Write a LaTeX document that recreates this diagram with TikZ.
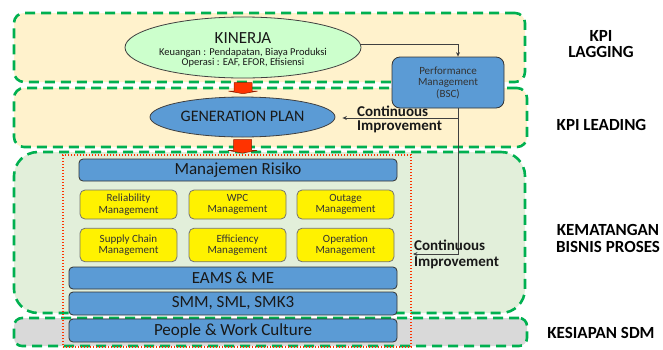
\documentclass[tikz,border=0pt]{standalone}
\usepackage{fontspec}
\setmainfont{Carlito}
\usetikzlibrary{shapes.geometric,arrows.meta,calc}

\definecolor{peach}{HTML}{FFF2CC}
\definecolor{paleGreen}{HTML}{E2EFDA}
\definecolor{paleGray}{HTML}{D9D9D9}
\definecolor{dashGreen}{HTML}{00B050}
\definecolor{boxBlue}{HTML}{5B9BD5}
\definecolor{mint}{HTML}{CCFFCC}
\definecolor{hotRed}{HTML}{FF3300}
\definecolor{wire}{HTML}{404040}

% font size in pt with a given baseline skip
\newcommand\pxfont[2]{\fontsize{#1}{#2}\selectfont}

\begin{document}
\begin{tikzpicture}[x=1pt,y=-1pt,
  band/.style={draw=dashGreen, line width=2.6pt, dash pattern=on 10pt off 6pt, inner sep=0pt},
  bluebar/.style={draw=black!80, fill=boxBlue, rounded corners=4pt, line width=0.8pt,
    inner sep=0pt, font=\pxfont{17}{20}, text=black!90},
  yellowbox/.style={draw=black!55, fill=yellow, rounded corners=5pt, line width=0.8pt,
    minimum width=97pt, inner sep=0pt, align=center, font=\pxfont{11}{11.5}, text=black!80},
  conn/.style={draw=wire, line width=0.8pt, -{Stealth[length=4.5pt,width=4pt]}},
  blockarrow/.style={fill=hotRed, draw=hotRed!55!black, line width=0.5pt},
  tag/.style={font=\bfseries\pxfont{17}{20}, inner sep=0pt},
  note/.style={font=\bfseries\pxfont{15}{17}, inner sep=0pt, anchor=west, text=black!90},
  plain/.style={inner sep=0pt, text=black!90}
]
\useasboundingbox (0,0) rectangle (663,349);

% ---- layer bands ----
\node[band, fill=peach, rounded corners=10pt, minimum width=511pt, minimum height=69pt] (lagband) at (269.5,47.5) {};
\node[band, fill=peach, rounded corners=10pt, minimum width=513pt, minimum height=59pt] (leadband) at (270.5,117.5) {};
\node[band, fill=paleGreen, rounded corners=24pt, minimum width=511pt, minimum height=161pt] (procband) at (269.5,232.5) {};
\node[band, fill=paleGray, rounded corners=8pt, minimum width=513pt, minimum height=28pt] (sdmband) at (270.5,332) {};

% ---- dotted frame round the process stack ----
\node[draw=hotRed, line width=1.4pt, dash pattern=on 1.4pt off 1.6pt, minimum width=348pt, minimum height=192pt, inner sep=0pt] (core) at (237,251) {};

% ---- KINERJA ----
\node[ellipse, draw=black!75, fill=mint, line width=0.8pt, minimum width=236pt, minimum height=61pt, inner sep=0pt] (kin) at (243,47.5) {};
\node[plain, font=\pxfont{17}{20}] (kinT) at (243,38.3) {KINERJA};
\node[plain, font=\pxfont{10.5}{12}] (kinA) at (243,52.4) {Keuangan : Pendapatan, Biaya Produksi};
\node[plain, font=\pxfont{10.5}{12}] (kinB) at (243,63.2) {Operasi : EAF, EFOR, Efisiensi};

% ---- GENERATION PLAN ----
\node[ellipse, draw=black!75, fill=boxBlue, line width=0.8pt, minimum width=185pt, minimum height=40pt, inner sep=0pt] (gp) at (242.5,117) {};
\node[plain, font=\pxfont{16}{19}] (gpT) at (242.5,116.7) {GENERATION PLAN};

% ---- Performance Management ----
\node[draw=black!80, fill=boxBlue, rounded corners=8pt, line width=0.8pt, minimum width=112pt, minimum height=51pt,
      inner sep=0pt, align=center, font=\pxfont{11}{11.5}, text=black!80] (pm) at (448,82.5) {Performance\\Management\\(BSC)};

% ---- block arrows ----
\filldraw[blockarrow] ($(kin.south)+(-9,4.3)$) -- ++(18,0) -- ++(0,8.4) -- ++(5.5,0)
  -- ($(kin.south)+(0,15.3)$) -- ($(kin.south)+(-14.5,12.7)$) -- ++(5.5,0) -- cycle;
\filldraw[blockarrow] ($(gp.south)+(-9,2.3)$) -- ++(18,0) -- ++(0,10.7) -- ++(5.5,0)
  -- ($(gp.south)+(0,15.7)$) -- ($(gp.south)+(-14.5,13)$) -- ++(5.5,0) -- cycle;

% ---- process stack ----
\node[bluebar, minimum width=318pt, minimum height=22pt] (risk) at (238,170) {Manajemen Risiko};

\node[yellowbox, minimum height=29pt] (rel) at (128.5,204.5) {Reliability\\Management};
\node[yellowbox, minimum height=29pt] (wpc) at (237.5,204.5) {WPC\\Management};
\node[yellowbox, minimum height=29pt] (outage) at (345.5,204.5) {Outage\\Management};
\node[yellowbox, minimum height=33.5pt] (supply) at (128.5,245) {Supply Chain\\Management};
\node[yellowbox, minimum height=33.5pt] (eff) at (237.5,245) {Efficiency\\Management};
\node[yellowbox, minimum height=33.5pt] (oper) at (345.5,245) {Operation\\Management};

\node[bluebar, minimum width=328pt, minimum height=22pt] (eams) at (233,278) {EAMS \& ME};
\node[bluebar, minimum width=328pt, minimum height=23pt] (smm) at (233,303.5) {SMM, SML, SMK3};
\node[bluebar, minimum width=328pt, minimum height=23pt] (pwc) at (233,330.5) {People \& Work Culture};

% ---- feedback connectors ----
\coordinate (pmdrop) at ([xshift=10pt]pm.south);
\coordinate (ciTip) at (413,254);
\draw[conn] ([yshift=3.2pt]kin.east) -| ([xshift=10pt]pm.north);
\draw[conn] (pmdrop) |- (ciTip);
\draw[conn] ([yshift=-1pt]pmdrop |- gp.east) -- ([xshift=7pt,yshift=-1pt]gp.east);

\node[note] (ciA1) at (357,111.5) {Continuous};
\node[note] (ciA2) at (357,126.5) {Improvement};
\node[note] (ciB1) at (414,245.5) {Continuous};
\node[note] (ciB2) at (414,263) {Improvement};

% ---- layer titles ----
\node[tag] (lagA) at (601,35.8) {KPI};
\node[tag] (lagB) at (601,52.2) {LAGGING};
\node[tag] (lead) at (601.5,124.7) {KPI LEADING};
\node[tag] (matA) at (608,229.5) {KEMATANGAN};
\node[tag] (matB) at (608,247) {BISNIS PROSES};
\node[tag] (sdm) at (601,333) {KESIAPAN SDM};
\end{tikzpicture}
\end{document}
